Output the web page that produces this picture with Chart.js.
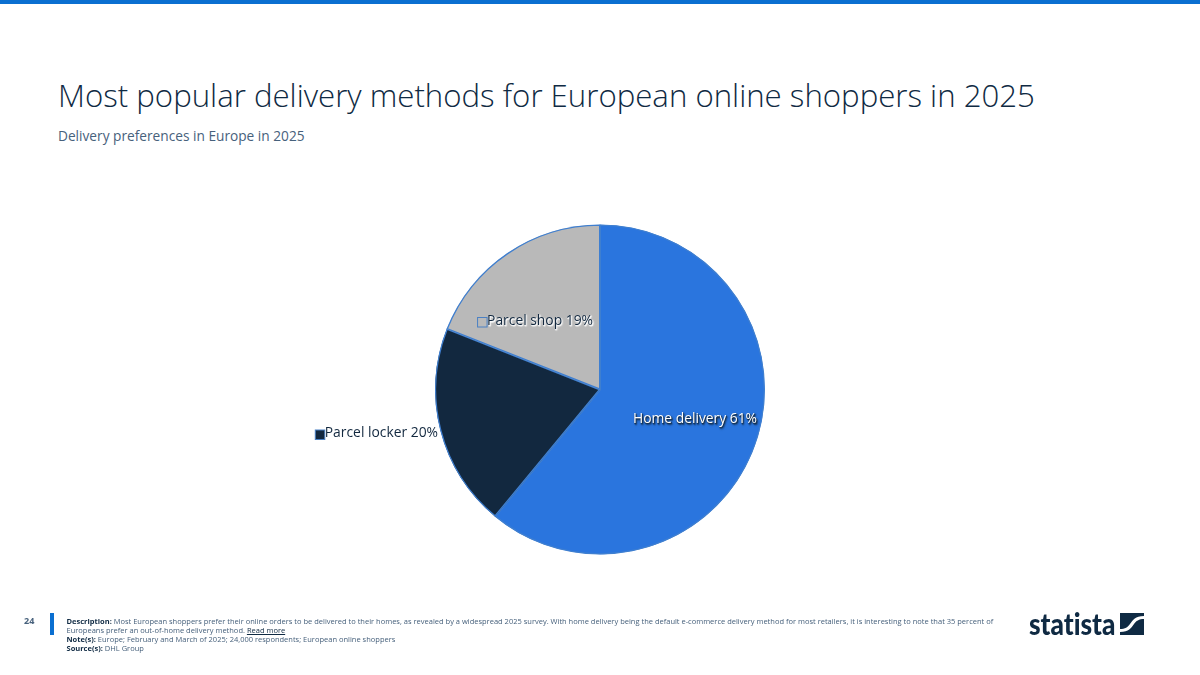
<!DOCTYPE html>
<html><head><meta charset="utf-8">
<style>
html,body{margin:0;padding:0;background:#fff;width:1200px;height:675px;overflow:hidden;font-family:"Open Sans",sans-serif}
#bar{position:absolute;left:0;top:0;width:1200px;height:4px;background:#0a6fd1}
#title{position:absolute;left:58px;top:73px;font-size:31.2px;font-weight:300;color:#0f2a43;white-space:nowrap;line-height:44px}
#sub{position:absolute;left:58px;top:125px;font-size:13.7px;color:#47617c;white-space:nowrap;line-height:22px}
#wrap{position:absolute;left:0;top:0;width:1200px;height:675px}
#pg{position:absolute;left:24px;top:615px;width:24px;font-size:9px;font-weight:700;color:#47617c;line-height:12px}
#rule{position:absolute;left:50px;top:613px;width:3.5px;height:22px;background:#0a6fd1}
#foot{position:absolute;left:66.5px;top:617px;width:940px;font-size:7.5px;line-height:9px;color:#47617c;white-space:nowrap}
#foot b{color:#0f2a43}
#foot u{color:#0f2a43}
#logo{position:absolute;left:1029px;top:605px;font-size:30px;font-weight:900;color:#0f2a43;font-family:"Lato",sans-serif;font-variant-ligatures:none;transform-origin:left top;transform:scaleX(.875);line-height:36px}
#mark{position:absolute;left:1120px;top:613px}
</style></head><body>
<div id="bar"></div>
<div id="title">Most popular delivery methods for European online shoppers in 2025</div>
<div id="sub">Delivery preferences in Europe in 2025</div>
<div id="wrap"><canvas id="c" width="1200" height="675"></canvas></div>
<div id="pg">24</div><div id="rule"></div>
<div id="foot"><b>Description:</b> Most European shoppers prefer their online orders to be delivered to their homes, as revealed by a widespread 2025 survey. With home delivery being the default e-commerce delivery method for most retailers, it is interesting to note that 35 percent of<br>Europeans prefer an out-of-home delivery method. <u>Read more</u><br><b>Note(s):</b> Europe; February and March of 2025; 24,000 respondents; European online shoppers<br><b>Source(s):</b> DHL Group</div>
<div id="logo">statista</div>
<svg id="mark" width="24" height="22" viewBox="0 0 24 22"><path fill="#0f2a43" d="M0 0H24V3C15 3 13 7 10 11C8 14 5 16 0 16ZM24 6V22H0V19C9 19 11 15 14 11C16 8 19 6 24 6Z"/></svg>
<script src="https://cdn.jsdelivr.net/npm/chart.js@4"></script>
<script>
const categories = ["Home delivery", "Parcel locker", "Parcel shop"];
const shares = [61, 20, 19];
const sliceColors = ["#2a75de", "#12283f", "#b9b9b9"];

const sliceLabels = {
  id: "sliceLabels",
  afterDatasetsDraw(chart) {
    const ctx = chart.ctx;
    const arcs = chart.getDatasetMeta(0).data;
    const styles = [
      {dx: 95, dy: 30, fill: "#ffffff", halo: "#12283f", align: "center"},
      {dx: -162, dy: 44, fill: "#12283f", halo: null, align: "right"},
      {dx: -7, dy: -68.5, fill: "#12283f", halo: "#ffffff", align: "right"}
    ];
    ctx.save();
    ctx.font = '13.85px "Open Sans"';
    ctx.textBaseline = "middle";
    categories.forEach((name, i) => {
      const s = styles[i], a = arcs[i], txt = name + " " + shares[i] + "%";
      const x = a.x + s.dx, y = a.y + s.dy;
      ctx.textAlign = s.align;
      ctx.save();
      if (s.halo) {
        ctx.shadowColor = s.halo;
        ctx.shadowBlur = 1.5;
        ctx.shadowOffsetX = 0.7;
        ctx.shadowOffsetY = 0.7;
        ctx.strokeStyle = s.halo;
        ctx.lineWidth = 0.6;
        ctx.globalAlpha = .7;
        ctx.strokeText(txt, x + .6, y + .6);
        ctx.globalAlpha = 1;
      }
      ctx.fillStyle = s.fill;
      ctx.fillText(txt, x, y);
      ctx.restore();
      if (i > 0) {
        const w = ctx.measureText(txt).width;
        ctx.fillStyle = sliceColors[i];
        ctx.strokeStyle = "#4a80c4";
        ctx.lineWidth = 1;
        ctx.fillRect(x - w - 9.5, y - 3.5, 9.5, 9.5);
        ctx.strokeRect(x - w - 9.5, y - 3.5, 9.5, 9.5);
      }
    });
    ctx.restore();
  }
};

new Chart(document.getElementById("c"), {
  type: "pie",
  data: {
    labels: categories,
    datasets: [{
      data: shares,
      backgroundColor: sliceColors,
      borderColor: "#3f7fd0",
      borderWidth: 1,
      borderAlign: "inner"
    }]
  },
  options: {
    responsive: false,
    animation: false,
    layout: {padding: {left: 435, right: 435, top: 224, bottom: 120}},
    plugins: {legend: {display: false}, tooltip: {enabled: false}, title: {display: false}}
  },
  plugins: [sliceLabels]
});
</script>
</body></html>
